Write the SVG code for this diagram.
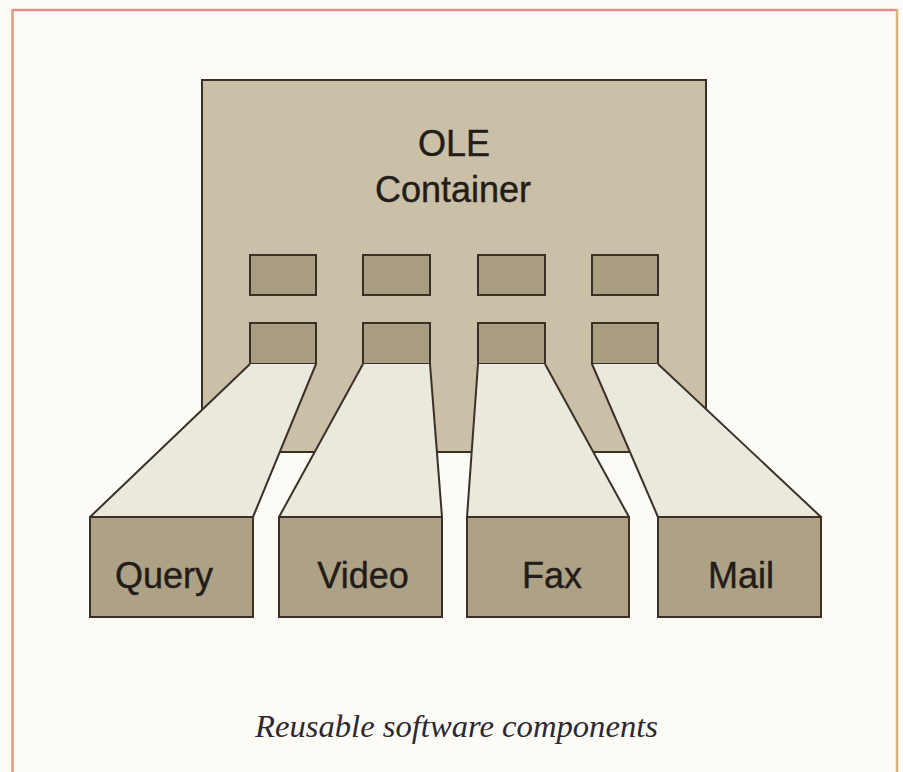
<svg xmlns="http://www.w3.org/2000/svg" width="903" height="772" viewBox="0 0 903 772">
<style>
.ln{stroke:#3a3028;stroke-width:2;stroke-linejoin:miter}
.cont{fill:#c9c0a7}
.port{fill:#aa9e82}
.beam{fill:#ebe8dd}
.comp{fill:#ada286}
.lbl{font-family:"Liberation Sans",Arial,sans-serif;font-size:36px;fill:#231c18;stroke:#231c18;stroke-width:0.4;text-anchor:middle}
.cap{font-family:"Liberation Serif","Times New Roman",serif;font-style:italic;font-size:31px;fill:#2e2830}
</style>
<rect x="0" y="0" width="903" height="772" fill="#fcfbf6"/>
<g id="frame" fill="none">
<line x1="12.5" y1="10" x2="897" y2="10" stroke="#e58c8c" stroke-width="2.5"/>
<line x1="12.5" y1="9" x2="12.5" y2="772" stroke="#e49a7e" stroke-width="2.5"/>
<line x1="897" y1="9" x2="897" y2="772" stroke="#d9b47a" stroke-width="2.5"/>
</g>
<g id="container">
<rect class="cont ln" x="202" y="80" width="504" height="372"/>
<text class="lbl" x="454" y="156">OLE</text>
<text class="lbl" x="453" y="202">Container</text>
</g>
<g id="ports">
<rect class="port ln" x="250" y="255" width="66" height="40"/>
<rect class="port ln" x="363" y="255" width="67" height="40"/>
<rect class="port ln" x="478" y="255" width="67" height="40"/>
<rect class="port ln" x="592" y="255" width="66" height="40"/>
<rect class="port ln" x="250" y="323" width="66" height="41"/>
<rect class="port ln" x="363" y="323" width="67" height="41"/>
<rect class="port ln" x="478" y="323" width="67" height="41"/>
<rect class="port ln" x="592" y="323" width="66" height="41"/>
</g>
<g id="connectors">
<polygon class="beam" points="250,364 316,364 253,517 90,517"/>
<polyline class="ln" fill="none" points="250,364 90,517"/>
<polyline class="ln" fill="none" points="316,364 253,517"/>
<polygon class="beam" points="363,364 430,364 442,517 279,517"/>
<polyline class="ln" fill="none" points="363,364 279,517"/>
<polyline class="ln" fill="none" points="430,364 442,517"/>
<polygon class="beam" points="478,364 545,364 629,517 467,517"/>
<polyline class="ln" fill="none" points="478,364 467,517"/>
<polyline class="ln" fill="none" points="545,364 629,517"/>
<polygon class="beam" points="592,364 658,364 821,517 658,517"/>
<polyline class="ln" fill="none" points="592,364 658,517"/>
<polyline class="ln" fill="none" points="658,364 821,517"/>
</g>
<g id="query">
<rect class="comp ln" x="90" y="517" width="163" height="100"/>
<text class="lbl" x="164" y="588">Query</text>
</g>
<g id="video">
<rect class="comp ln" x="279" y="517" width="163" height="100"/>
<text class="lbl" x="363" y="588">Video</text>
</g>
<g id="fax">
<rect class="comp ln" x="467" y="517" width="162" height="100"/>
<text class="lbl" x="552" y="588">Fax</text>
</g>
<g id="mail">
<rect class="comp ln" x="658" y="517" width="163" height="100"/>
<text class="lbl" x="741" y="588">Mail</text>
</g>
<g id="caption">
<text class="cap" x="255" y="737" textLength="403" lengthAdjust="spacingAndGlyphs">Reusable software components</text>
</g>
</svg>
